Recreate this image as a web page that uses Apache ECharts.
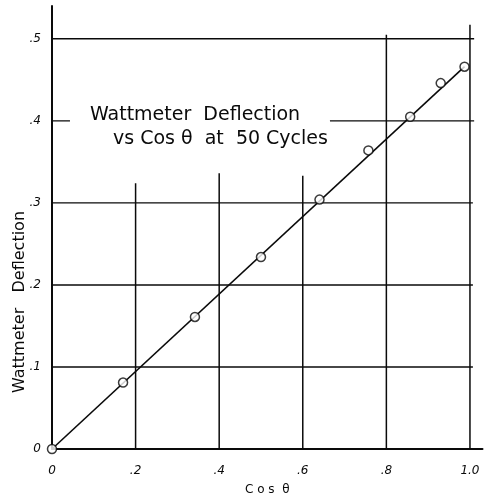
<!DOCTYPE html>
<html>
<head>
<meta charset="utf-8">
<script src="https://cdn.jsdelivr.net/npm/echarts@6/dist/echarts.min.js"></script>
<style>
html,body{margin:0;padding:0;background:#fff;}
#c{width:486px;height:501px;}
</style>
</head>
<body>
<div id="c"></div>
<script>
// ---- data ----
var cosTheta   = [0, 0.170, 0.342, 0.500, 0.640, 0.757, 0.857, 0.930, 0.987];
var deflection = [0, 0.081, 0.161, 0.234, 0.304, 0.364, 0.405, 0.446, 0.466];
var fitLineX   = [0, 0.987];
var fitLineY   = [0, 0.466];
var xTickValues = [0, 0.2, 0.4, 0.6, 0.8, 1.0];
var xTickLabels = ['0', '.2', '.4', '.6', '.8', '1.0'];
var yTickValues = [0, 0.1, 0.2, 0.3, 0.4, 0.5];
var yTickLabels = ['0', '.1', '.2', '.3', '.4', '.5'];
// hand-ruled grid lines (partial, as drawn)
var vGridX     = [0.2, 0.4, 0.6, 0.8, 1.0];
var vGridTop   = [0.324, 0.336, 0.333, 0.505, 0.517];
var hGridY     = [0.1, 0.2, 0.3, 0.4, 0.4, 0.5];
var hGridFrom  = [0, 0, 0, 0, 0.665, 0];
var hGridTo    = [1.007, 1.007, 1.007, 0.043, 1.01, 1.01];

function lab(values, labels) {
  return function (v) {
    for (var i = 0; i < values.length; i++) {
      if (Math.abs(values[i] - v) < 1e-6) return labels[i];
    }
    return '';
  };
}

var ink = '#0a0a0a';
var font = 'DejaVu Sans';

var series = [];
vGridX.forEach(function (x, i) {
  series.push({
    type: 'line', silent: true, symbol: 'none', animation: false,
    lineStyle: {color: ink, width: 1.5},
    data: [[x, 0], [x, vGridTop[i]]]
  });
});
hGridY.forEach(function (y, i) {
  series.push({
    type: 'line', silent: true, symbol: 'none', animation: false,
    lineStyle: {color: ink, width: 1.4},
    data: [[hGridFrom[i], y], [hGridTo[i], y]]
  });
});
series.push({
  type: 'line', symbol: 'none', animation: false,
  lineStyle: {color: ink, width: 1.6},
  data: fitLineX.map(function (x, i) { return [x, fitLineY[i]]; })
});
series.push({
  type: 'scatter', animation: false, symbol: 'circle', symbolSize: 9,
  itemStyle: {color: '#fff', borderColor: ink, borderWidth: 1.5},
  data: cosTheta.map(function (x, i) { return [x, deflection[i]]; }),
  z: 5
});

var chart = echarts.init(document.getElementById('c'), null, {renderer: 'canvas'});
chart.setOption({
  backgroundColor: '#fff',
  animation: false,
  grid: {left: 52, right: 3.5, top: 6, bottom: 47, containLabel: false},
  xAxis: {
    type: 'value', min: 0, max: 1.03, interval: 0.2,
    axisLine: {show: true, lineStyle: {color: ink, width: 2}},
    axisTick: {show: false},
    splitLine: {show: false},
    axisLabel: {
      showMaxLabel: false, formatter: lab(xTickValues, xTickLabels),
      color: ink, fontFamily: font, fontStyle: 'italic', fontSize: 12, margin: 16
    },
    name: 'C o s  θ', nameLocation: 'middle', nameGap: 35,
    nameTextStyle: {color: ink, fontFamily: font, fontSize: 12}
  },
  yAxis: {
    type: 'value', min: 0, max: 0.54, interval: 0.1,
    axisLine: {show: true, lineStyle: {color: ink, width: 2}},
    axisTick: {show: false},
    splitLine: {show: false},
    axisLabel: {
      showMaxLabel: false, formatter: lab(yTickValues, yTickLabels),
      color: ink, fontFamily: font, fontStyle: 'italic', fontSize: 12, margin: 11
    }
  },
  graphic: [
    {type: 'text', x: 20, y: 302, rotation: Math.PI / 2,
      style: {text: 'Wattmeter   Deflection', fill: ink, font: '16px "DejaVu Sans"',
        align: 'center', verticalAlign: 'middle'}},
    {type: 'text', left: 90, top: 106,
      style: {text: 'Wattmeter  Deflection', fill: ink, font: '19px "DejaVu Sans"'}},
    {type: 'text', left: 113, top: 130,
      style: {text: 'vs Cos θ  at  50 Cycles', fill: ink, font: '19px "DejaVu Sans"'}}
  ],
  series: series
});
</script>
</body>
</html>
